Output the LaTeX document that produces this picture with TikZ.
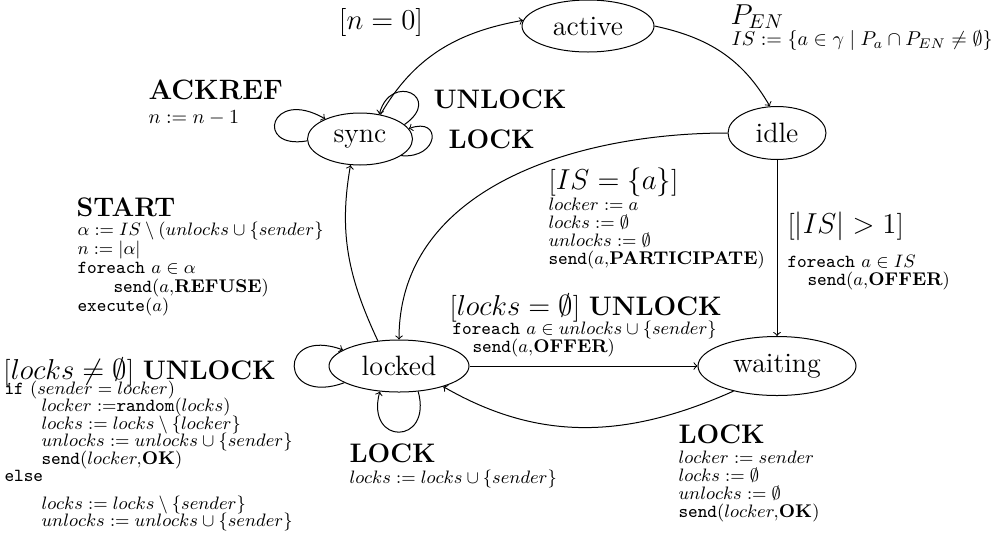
\documentclass[tikz,border=0pt]{standalone}
\usetikzlibrary{shapes.geometric}
\newcommand\fbig{\fontsize{14}{16}\selectfont}
\newcommand\fhead{\fontsize{13.4}{15}\selectfont}
\newcommand\fsmall{\fontsize{9.2}{9}\selectfont\lineskiplimit=-20pt}
\newcommand\fsmallb{\fontsize{9.2}{9.6}\selectfont\lineskiplimit=-20pt}
\newcommand\fsmallc{\fontsize{9.2}{8.75}\selectfont\lineskiplimit=-20pt}
\newcommand\fmid{\fontsize{10.3}{10}\selectfont}
\newcommand\fmidb{\fontsize{9.8}{10}\selectfont}
\tikzset{
  st/.style={draw, ellipse, inner sep=1pt, font=\fbig},
  hd/.style={anchor=north west, inner sep=0pt, font=\fhead},
  bl/.style={anchor=north west, inner sep=0pt, align=left, font=\fsmall},
  ed/.style={->},
}
\begin{document}
\begin{tikzpicture}[x=0.5pt,y=-0.5pt,line width=0.5pt]
\useasboundingbox (0,0) rectangle (999,536);
% states
\node[st, minimum width=66pt, minimum height=26pt] (active) at (588,26) {active};
\node[st, minimum width=52.5pt, minimum height=26pt] (sync) at (360,139) {sync};
\node[st, minimum width=49pt, minimum height=26.5pt] (idle) at (777,133) {idle};
\node[st, minimum width=70pt, minimum height=26pt] (locked) at (399,366) {locked};
\node[st, minimum width=79pt, minimum height=29.5pt] (waiting) at (777,366) {waiting};
% edges
\draw[ed] (sync.50) to[out=60,in=190] (active.175);
\draw[ed] (active.east) to[out=-12,in=120] (idle.105);
\draw[ed] (idle.west) to[out=180,in=90] (locked.north);
\draw[ed] (idle.south) -- (waiting.north);
\draw[ed] (locked.130) to[out=115,in=260] (sync.250);
\draw[ed] (locked.east) -- (waiting.west);
\draw[ed] (waiting.210) to[out=204,in=-30] (locked.-25);
% loops
\draw[ed] (locked.197) .. controls +(200:35pt) and +(160:35pt) .. (locked.164);
\draw[ed] (locked.307) .. controls +(285:28pt) and +(255:28pt) .. (locked.233);
\draw[ed] (sync.182) .. controls +(190:27pt) and +(150:32pt) .. (sync.150);
\draw[ed] (sync.18) .. controls +(35:24pt) and +(75:22pt) .. (sync.52);
\draw[ed] (sync.338) .. controls +(-5:19pt) and +(20:18pt) .. (sync.12);
% labels
\node[font=\fbig, inner sep=0pt] (l0) at (381,22) {[$n=0$]};
\node[font=\fbig, anchor=north west, inner sep=0pt] (lpen) at (730,4) {$P_{EN}$};
\node[bl, font=\fmid] (lis) at (731,30) {$IS := \{a\in\gamma \mid P_a\cap P_{EN}\neq\emptyset\}$};
\node[hd, font=\fbig] (lack) at (148,79) {\textbf{ACKREF}};
\node[bl, font=\fmidb] (lackb) at (148,110) {$n := n-1$};
\node[hd, anchor=west] (lun) at (433,99) {\textbf{UNLOCK}};
\node[hd, anchor=west] (llk) at (448,139) {\textbf{LOCK}};
\node[hd] (lst) at (76,197) {\textbf{START}};
\node[bl, font=\fsmallb] (lstb) at (77,221) {$\alpha := IS\setminus(unlocks\cup\{sender\}$\\
  $n := |\alpha|$\\
  \texttt{foreach} $a\in\alpha$\\
  \hspace*{18pt}\texttt{send}$(a,$\textbf{REFUSE}$)$\\
  \texttt{execute}$(a)$};
\node[hd] (lisa) at (548,167) {[$IS=\{a\}$]};
\node[bl] (lisab) at (548,197) {$locker := a$\\
  $locks := \emptyset$\\
  $unlocks := \emptyset$\\
  \texttt{send}$(a,$\textbf{PARTICIPATE}$)$};
\node[hd] (lgt) at (787,211) {[$|IS|>1$]};
\node[bl] (lgtb) at (787,255) {\texttt{foreach} $a\in IS$\\
  \hspace*{10pt}\texttt{send}$(a,$\textbf{OFFER}$)$};
\node[hd] (lun2) at (449,293) {[$locks=\emptyset$] \textbf{UNLOCK}};
\node[bl] (lun2b) at (452,320) {\texttt{foreach} $a\in unlocks\cup\{sender\}$\\
  \hspace*{10pt}\texttt{send}$(a,$\textbf{OFFER}$)$};
\node[hd] (lun3) at (3,357) {[$locks\neq\emptyset$] \textbf{UNLOCK}};
\node[bl, font=\fsmallc] (lun3b) at (4,380) {\texttt{if} $(sender = locker)$\\
  \hspace*{18.5pt}$locker :=$\texttt{random}$(locks)$\\
  \hspace*{18.5pt}$locks := locks\setminus\{locker\}$\\
  \hspace*{18.5pt}$unlocks := unlocks\cup\{sender\}$\\
  \hspace*{18.5pt}\texttt{send}$(locker,$\textbf{OK}$)$\\
  \texttt{else}\\[5pt]
  \hspace*{18.5pt}$locks := locks\setminus\{sender\}$\\
  \hspace*{18.5pt}$unlocks := unlocks\cup\{sender\}$};
\node[hd] (llk2) at (349,443) {\textbf{LOCK}};
\node[bl] (llk2b) at (349,469) {$locks := locks\cup\{sender\}$};
\node[hd] (llk3) at (678,424) {\textbf{LOCK}};
\node[bl] (llk3b) at (678,450) {$locker := sender$\\
  $locks := \emptyset$\\
  $unlocks := \emptyset$\\
  \texttt{send}$(locker,$\textbf{OK}$)$};
\end{tikzpicture}
\end{document}
